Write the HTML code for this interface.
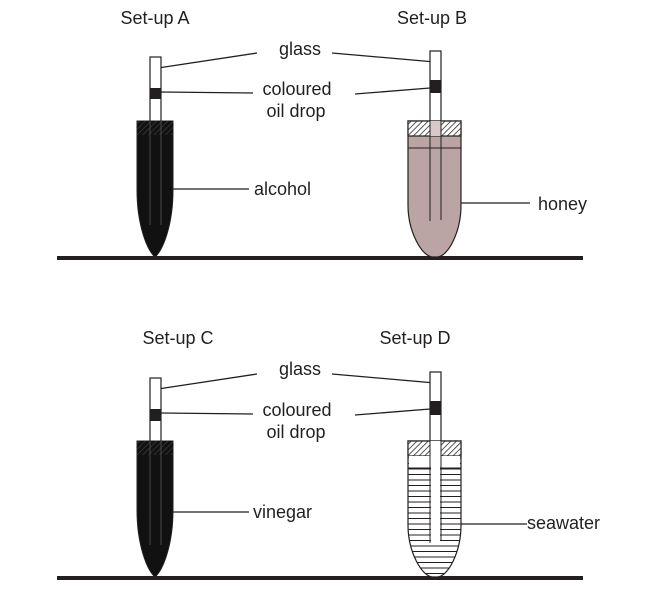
<!DOCTYPE html>
<html><head><meta charset="utf-8"><style>
body{margin:0;background:#fff}
svg text{font-family:"Liberation Sans",sans-serif;font-size:18px;fill:#231f20}
</style></head><body>
<svg width="668" height="596" viewBox="0 0 668 596">
<defs>
<pattern id="hatch" width="4" height="4" patternUnits="userSpaceOnUse" patternTransform="rotate(45)"><rect width="4" height="4" fill="#fff"/><line x1="0" y1="0" x2="0" y2="4" stroke="#231f20" stroke-width="1.5"/></pattern>
<pattern id="hatchDark" width="4" height="4" patternUnits="userSpaceOnUse" patternTransform="rotate(45)"><rect width="4" height="4" fill="#111"/><line x1="0" y1="0" x2="0" y2="4" stroke="#444" stroke-width="1.2"/></pattern>
<pattern id="hlines" width="10" height="5.5" patternUnits="userSpaceOnUse"><rect width="10" height="5.5" fill="#fff"/><line x1="0" y1="0.5" x2="10" y2="0.5" stroke="#231f20" stroke-width="1"/></pattern>
</defs>

<g>
<rect x="57" y="256" width="526" height="4" fill="#231f20"/>
<text x="155" y="24" text-anchor="middle">Set-up A</text>
<text x="432" y="24" text-anchor="middle">Set-up B</text>
<text x="300" y="55" text-anchor="middle">glass</text>
<text x="297" y="95" text-anchor="middle">coloured</text>
<text x="296" y="117" text-anchor="middle">oil drop</text>
<text x="254" y="195">alcohol</text>
<text x="538" y="210">honey</text>
<g stroke="#231f20" stroke-width="1.3" fill="none">
<line x1="158" y1="68" x2="257" y2="53"/><line x1="332" y1="53" x2="435" y2="62"/>
<line x1="161" y1="92" x2="253" y2="93"/><line x1="355" y1="94" x2="430" y2="88"/>
<line x1="173" y1="189" x2="249" y2="189"/><line x1="461" y1="203" x2="530" y2="203"/>
</g>
<g>
<rect x="150" y="57" width="11" height="65" fill="#fff" stroke="#231f20" stroke-width="1.2"/>
<rect x="150" y="88" width="11" height="11" fill="#231f20"/>
<path d="M137 121 H173 V190 C173 225 163 250 155 257 C147 250 137 225 137 190 Z" fill="#111" stroke="#231f20"/>
<rect x="137" y="121" width="36" height="14" fill="url(#hatchDark)"/>
<line x1="150" y1="121" x2="150" y2="225" stroke="#555" stroke-width="0.8"/><line x1="161" y1="121" x2="161" y2="225" stroke="#555" stroke-width="0.8"/>
</g>
<g>
<rect x="430" y="51" width="11" height="71" fill="#fff" stroke="#231f20" stroke-width="1.2"/>
<rect x="430" y="80" width="11" height="13" fill="#231f20"/>
<path d="M408 121 H461 V205 C461 232 448 257 437 257 H433 C422 257 408 232 408 205 Z" fill="#baa5a4" stroke="#231f20" stroke-width="1.2"/>
<rect x="408" y="121" width="53" height="15" fill="url(#hatch)" stroke="#231f20" stroke-width="1.2"/>
<rect x="430" y="121" width="11" height="15" fill="#d8c9c8"/>
<line x1="408" y1="148" x2="461" y2="148" stroke="#231f20"/>
<line x1="430" y1="121" x2="430" y2="221" stroke="#231f20"/><line x1="441" y1="121" x2="441" y2="220" stroke="#231f20"/>
</g>
</g>

<g transform="translate(0,320)">
<rect x="57" y="256" width="526" height="4" fill="#231f20"/>
<text x="178" y="24" text-anchor="middle">Set-up C</text>
<text x="415" y="24" text-anchor="middle">Set-up D</text>
<text x="300" y="55" text-anchor="middle">glass</text>
<text x="297" y="96" text-anchor="middle">coloured</text>
<text x="296" y="118" text-anchor="middle">oil drop</text>
<text x="253" y="198">vinegar</text>
<text x="527" y="209">seawater</text>
<g stroke="#231f20" stroke-width="1.3" fill="none">
<line x1="158" y1="69" x2="257" y2="54"/><line x1="332" y1="54" x2="435" y2="63"/>
<line x1="161" y1="93" x2="253" y2="94"/><line x1="355" y1="95" x2="430" y2="89"/>
<line x1="173" y1="192" x2="249" y2="192"/><line x1="461" y1="204" x2="527" y2="204"/>
</g>
<g>
<rect x="150" y="58" width="11" height="64" fill="#fff" stroke="#231f20" stroke-width="1.2"/>
<rect x="150" y="89" width="11" height="12" fill="#231f20"/>
<path d="M137 121 H173 V190 C173 225 163 250 155 257 C147 250 137 225 137 190 Z" fill="#111" stroke="#231f20"/>
<rect x="137" y="121" width="36" height="14" fill="url(#hatchDark)"/>
<line x1="150" y1="121" x2="150" y2="225" stroke="#555" stroke-width="0.8"/><line x1="161" y1="121" x2="161" y2="225" stroke="#555" stroke-width="0.8"/>
</g>
<g>
<rect x="430" y="52" width="11" height="70" fill="#fff" stroke="#231f20" stroke-width="1.2"/>
<rect x="430" y="81" width="11" height="14" fill="#231f20"/>
<path d="M408 121 H461 V205 C461 232 448 257 437 257 H433 C422 257 408 232 408 205 Z" fill="url(#hlines)" stroke="#231f20" stroke-width="1.2"/>
<rect x="408" y="121" width="53" height="15" fill="url(#hatch)" stroke="#231f20" stroke-width="1.2"/>
<rect x="430" y="121" width="11" height="15" fill="#fff"/>
<rect x="409" y="136" width="51" height="12" fill="#fff"/>
<line x1="408" y1="148" x2="461" y2="148" stroke="#231f20"/>
<rect x="431" y="136" width="9" height="87" fill="#fff"/>
<line x1="430" y1="121" x2="430" y2="223" stroke="#231f20"/><line x1="441" y1="121" x2="441" y2="220" stroke="#231f20"/>
</g>
</g>
</svg>
</body></html>
